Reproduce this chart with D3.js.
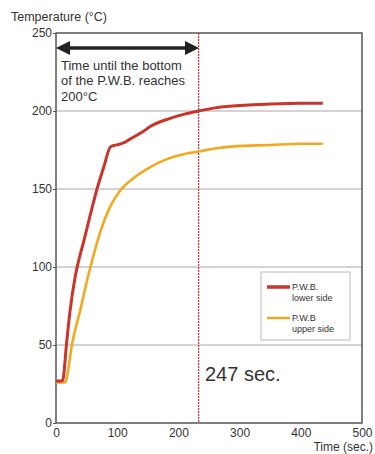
<!DOCTYPE html>
<html>
<head>
<meta charset="utf-8">
<script src="https://cdn.jsdelivr.net/npm/d3@7"></script>
<style>
body { margin: 0; background: #fff; }
text { font-family: "Liberation Sans", Arial, sans-serif; fill: #333; }
</style>
</head>
<body>
<div id="chart"></div>
<script>
// data
var lowerTime = [0, 10, 12, 17, 23, 31, 37, 45, 59, 67, 78, 89, 96, 102, 110, 121, 143, 154, 184, 210, 233, 260, 300, 350, 400, 436];
var lowerTemp = [27, 27, 29, 50, 72, 93, 104, 116, 138, 150, 164, 177, 178, 178.5, 179.5, 182, 187, 190, 195, 198, 200, 202, 203.5, 204.5, 205, 205];
var upperTime = [0, 15, 17, 26, 40, 53, 61, 72, 89, 105, 127, 154, 180, 205, 233, 260, 290, 350, 400, 436];
var upperTemp = [26, 26, 28, 50, 73, 95, 107, 122, 139, 149, 157, 164, 169, 172, 174, 176, 177.3, 178.2, 179, 179];
var xTicks = [0, 100, 200, 300, 400, 500];
var yTicks = [0, 50, 100, 150, 200, 250];
var markTime = 233;
var markLabel = "247 sec.";
var noteLines = ["Time until the bottom", "of the P.W.B. reaches", "200\u00B0C"];
var legendNames = [["P.W.B.", "lower side"], ["P.W.B", "upper side"]];
var colors = ["#c9352a", "#f1a920"];

drawchart()

function drawchart() {
	var W = 375, H = 454;
	var margin = { top: 33, right: 13, bottom: 31, left: 56 };

	var svg = d3.select("#chart").append("svg")
		.attr("width", W)
		.attr("height", H);

	var x = d3.scaleLinear().domain([0, 500]).range([margin.left, W - margin.right]);
	var y = d3.scaleLinear().domain([0, 250]).range([H - margin.bottom, margin.top]);

	// gridlines
	svg.append("g").selectAll("line")
		.data(yTicks.filter(d => d > 0 && d < 250))
		.join("line")
		.attr("x1", x(0)).attr("x2", x(500))
		.attr("y1", d => y(d)).attr("y2", d => y(d))
		.attr("stroke", "#a8a8a8")
		.attr("stroke-width", 1);

	// axes
	var yAxis = svg.append("g")
		.attr("transform", `translate(${x(0)},0)`)
		.call(d3.axisLeft(y).tickValues(yTicks).tickSize(3).tickPadding(1));
	var xAxis = svg.append("g")
		.attr("transform", `translate(0,${y(0)})`)
		.call(d3.axisBottom(x).tickValues(xTicks).tickSize(0).tickPadding(4));
	svg.selectAll(".domain").remove();
	svg.selectAll(".tick line").attr("stroke", "#555");
	svg.selectAll(".tick text")
		.style("font-size", "12px")
		.style("font-family", "Liberation Sans, Arial, sans-serif")
		.attr("fill", "#333");
	xAxis.selectAll(".tick text").attr("dy", "0.8em");

	// plot frame
	svg.append("rect")
		.attr("x", x(0)).attr("y", y(250))
		.attr("width", x(500) - x(0))
		.attr("height", y(0) - y(250))
		.attr("fill", "none")
		.attr("stroke", "#555")
		.attr("stroke-width", 1.5);

	// axis titles
	svg.append("text")
		.attr("x", 11).attr("y", 21)
		.style("font-size", "12.5px")
		.text("Temperature (\u00B0C)");
	svg.append("text")
		.attr("x", 373).attr("y", 451)
		.attr("text-anchor", "end")
		.style("font-size", "12px")
		.text("Time (sec.)");

	// marker line
	svg.append("line")
		.attr("x1", x(markTime)).attr("x2", x(markTime))
		.attr("y1", y(250)).attr("y2", y(0))
		.attr("stroke", "#d8323a")
		.attr("stroke-width", 1.3)
		.attr("stroke-dasharray", "2,1");

	// curves
	var line = d3.line()
		.x(d => x(d[0]))
		.y(d => y(d[1]))
		.curve(d3.curveMonotoneX);
	var series = [
		d3.zip(lowerTime, lowerTemp),
		d3.zip(upperTime, upperTemp)
	];
	svg.append("path")
		.datum(series[1])
		.attr("d", line)
		.attr("fill", "none")
		.attr("stroke", colors[1])
		.attr("stroke-width", 2.6);
	svg.append("path")
		.datum(series[0])
		.attr("d", line)
		.attr("fill", "none")
		.attr("stroke", colors[0])
		.attr("stroke-width", 3);

	// double arrow
	var defs = svg.append("defs");
	defs.append("marker")
		.attr("id", "ah")
		.attr("viewBox", "0 0 10 10")
		.attr("refX", 5).attr("refY", 5)
		.attr("markerWidth", 4).attr("markerHeight", 4)
		.attr("orient", "auto-start-reverse")
		.append("path")
		.attr("d", "M0,0L10,5L0,10z")
		.attr("fill", "#222");
	svg.append("line")
		.attr("x1", 63).attr("x2", 192)
		.attr("y1", 48).attr("y2", 48)
		.attr("stroke", "#222")
		.attr("stroke-width", 3.5)
		.attr("marker-start", "url(#ah)")
		.attr("marker-end", "url(#ah)");

	// note text
	var note = svg.append("text")
		.attr("x", 61).attr("y", 70)
		.style("font-size", "13px")
		.attr("fill", "#222");
	note.selectAll("tspan")
		.data(noteLines)
		.join("tspan")
		.attr("x", 61)
		.attr("dy", (d, i) => i == 0 ? 0 : "1.18em")
		.text(d => d);

	svg.append("text")
		.attr("x", 205).attr("y", 381)
		.style("font-size", "20px")
		.attr("fill", "#333")
		.text(markLabel);

	// legend
	var lg = svg.append("g");
	lg.append("rect")
		.attr("x", 261).attr("y", 272)
		.attr("width", 89).attr("height", 68)
		.attr("fill", "#fff")
		.attr("stroke", "#bbb")
		.attr("stroke-width", 1);
	legendNames.forEach(function(nm, i) {
		var yy = 287 + i * 31;
		lg.append("line")
			.attr("x1", 267).attr("x2", 290)
			.attr("y1", yy).attr("y2", yy)
			.attr("stroke", colors[i])
			.attr("stroke-width", i == 0 ? 3.5 : 2.5);
		var t = lg.append("text")
			.attr("x", 292).attr("y", yy + 3)
			.style("font-size", "9px")
			.attr("fill", "#333");
		t.append("tspan").attr("x", 292).text(nm[0]);
		t.append("tspan").attr("x", 292).attr("dy", "1.2em").text(nm[1]);
	});
}
</script>
</body>
</html>
